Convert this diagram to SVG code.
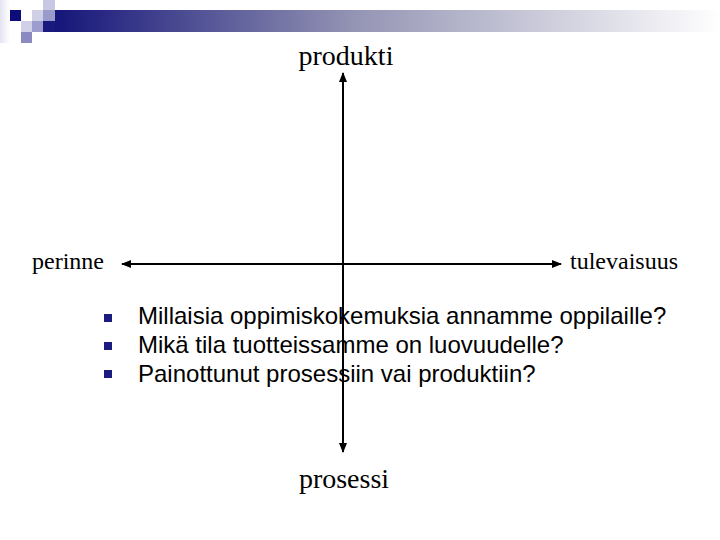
<svg xmlns="http://www.w3.org/2000/svg" width="720" height="540" viewBox="0 0 720 540">
<defs>
<linearGradient id="bar" x1="0" y1="0" x2="1" y2="0">
<stop offset="0" stop-color="#15157a"/>
<stop offset="0.45" stop-color="#9494b4"/>
<stop offset="1" stop-color="#ffffff"/>
</linearGradient>
<linearGradient id="side" x1="0" y1="0" x2="1" y2="0">
<stop offset="0" stop-color="#e4e4f2"/>
<stop offset="1" stop-color="#ffffff"/>
</linearGradient>
<marker id="arr" viewBox="0 0 10 8" refX="9" refY="4" markerWidth="5" markerHeight="4" orient="auto-start-reverse" markerUnits="strokeWidth">
<path d="M0,0 L10,4 L0,8 Z" fill="#000"/>
</marker>
<style>
.ax{stroke:#000;stroke-width:2;fill:none;marker-start:url(#arr);marker-end:url(#arr)}
.tm{font-family:"Liberation Serif","Times New Roman",serif;fill:#000}
.ar{font-family:"Liberation Sans",Arial,sans-serif;font-size:24px;fill:#000}
.bl{fill:#1c1c80}
</style>
</defs>
<rect width="720" height="540" fill="#fff"/>
<g id="decor">
<rect x="0" y="0" width="10" height="43" fill="url(#side)"/>
<rect x="55" y="10" width="665" height="22" fill="url(#bar)"/>
<rect x="43" y="21" width="12" height="11" fill="#1a1a7e"/>
<rect x="10" y="10" width="11" height="11" fill="#0c0c7a"/>
<rect x="43" y="0" width="12" height="10" fill="#c8c8e2"/>
<rect x="32" y="10" width="11" height="11" fill="#cfcfe6"/>
<rect x="43" y="10" width="12" height="11" fill="#9a9acb"/>
<rect x="21" y="21" width="11" height="11" fill="#d0d0e8"/>
<rect x="32" y="21" width="11" height="11" fill="#9c9cce"/>
<rect x="21" y="32" width="11" height="11" fill="#8a8ac0"/>
</g>
<g id="connectors">
<line class="ax" x1="343" y1="73" x2="343" y2="452"/>
<line class="ax" x1="122" y1="264" x2="561" y2="264"/>
</g>
<g id="produkti"><text class="tm" x="346" y="65" font-size="28" text-anchor="middle">produkti</text></g>
<g id="prosessi"><text class="tm" x="344" y="488" font-size="28" text-anchor="middle">prosessi</text></g>
<g id="perinne"><text class="tm" x="32" y="269" font-size="24">perinne</text></g>
<g id="tulevaisuus"><text class="tm" x="570" y="269" font-size="24">tulevaisuus</text></g>
<g id="bullets">
<rect class="bl" x="104" y="314" width="8" height="8"/>
<rect class="bl" x="104" y="342" width="8" height="8"/>
<rect class="bl" x="104" y="370" width="8" height="8"/>
<text class="ar" x="138" y="324">Millaisia oppimiskokemuksia annamme oppilaille?</text>
<text class="ar" x="138" y="353">Mikä tila tuotteissamme on luovuudelle?</text>
<text class="ar" x="138" y="382">Painottunut prosessiin vai produktiin?</text>
</g>
</svg>
